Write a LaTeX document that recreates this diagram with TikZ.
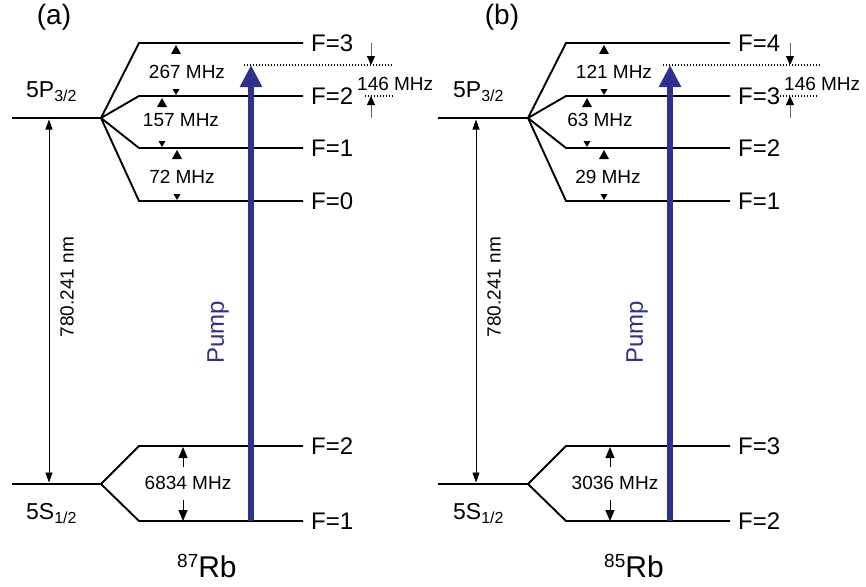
\documentclass[tikz,border=0pt]{standalone}
\usepackage{fontspec}
\setmainfont{Liberation Sans}
\usetikzlibrary{arrows.meta}
\definecolor{pumpblue}{RGB}{46,49,146}
\newcommand\fsz[1]{\fontsize{#1}{#1}\selectfont}
\newcommand\uptri[2]{\fill ({#1-5},{#2+9}) -- ({#1+5},{#2+9}) -- (#1,#2) -- cycle;}
\newcommand\dntri[2]{\fill ({#1-3.5},{#2-6}) -- ({#1+3.5},{#2-6}) -- (#1,#2) -- cycle;}
\tikzset{
 level/.style={line width=1.9pt},
 flab/.style={anchor=west, inner sep=0pt, font=\fsz{24}},
 mhz/.style={inner sep=0pt, font=\fsz{19}},
 stlab/.style={anchor=base west, inner sep=0pt, font=\fsz{23}},
 isolab/.style={anchor=base west, inner sep=0pt, font=\fsz{30}},
 panel/.style={inner sep=0pt, font=\fsz{28}},
 wl/.style={rotate=90, inner sep=0pt, font=\fsz{19}},
 pumplab/.style={rotate=90, inner sep=0pt, font=\fsz{24}, text=pumpblue},
 pumparrow/.style={draw=pumpblue, line width=6.5pt, -{Triangle[width=21pt,length=22pt]}},
 wlarrow/.style={line width=0.8pt, {Triangle[width=7pt,length=10pt]}-{Triangle[width=7pt,length=10pt]}},
 gsarrow/.style={line width=1pt, -{Triangle[width=9pt,length=11pt]}},
 refline/.style={line width=1.2pt, dash pattern=on 1.2pt off 1.8pt},
 smallarrow/.style={draw=black!60, line width=1pt, -{Triangle[width=8pt,length=9pt,black]}},
}
\begin{document}
\begin{tikzpicture}[x=1pt,y=-1pt]
\useasboundingbox (0,0) rectangle (866,586);

% ================= panel (a) =================
\node[panel] (alab) at (54,17) {(a)};
% excited state
\coordinate (aPl) at (12,118);
\coordinate (aPf) at (101,118);
\coordinate (aF3l) at (139,43);  \coordinate (aF3r) at (303,43);
\coordinate (aF2l) at (139,96);  \coordinate (aF2r) at (303,96);
\coordinate (aF1l) at (139,148); \coordinate (aF1r) at (303,148);
\coordinate (aF0l) at (139,201); \coordinate (aF0r) at (303,201);
\draw[level] (aPl) -- (aPf) -- (aF3l) -- (aF3r);
\draw[level] (aPf) -- (aF2l) -- (aF2r);
\draw[level] (aPf) -- (aF1l) -- (aF1r);
\draw[level] (aPf) -- (aF0l) -- (aF0r);
\node[flab] (aL3) at (311,43) {F=3};
\node[flab] (aL2) at (311,96) {F=2};
\node[flab] (aL1) at (311,148) {F=1};
\node[flab] (aL0) at (311,201) {F=0};
\node[stlab] (aP) at (26,97) {5P\raisebox{-4.5pt}{\fsz{16}3/2}};
% ground state
\coordinate (aSl) at (12,484);
\coordinate (aSf) at (101,484);
\coordinate (aG2l) at (139,446); \coordinate (aG2r) at (303,446);
\coordinate (aG1l) at (139,521); \coordinate (aG1r) at (303,521);
\draw[level] (aSl) -- (aSf) -- (aG2l) -- (aG2r);
\draw[level] (aSf) -- (aG1l) -- (aG1r);
\node[flab] (aM2) at (311,446) {F=2};
\node[flab] (aM1) at (311,521) {F=1};
\node[stlab] (aS) at (26,519) {5S\raisebox{-4.5pt}{\fsz{16}1/2}};
% splittings
\node[mhz] (a267) at (187,72) {267 MHz};
\node[mhz] (a157) at (181,120) {157 MHz};
\node[mhz] (a72) at (182,177) {72 MHz};
\uptri{176}{45} \dntri{176}{95}
\uptri{162}{98} \dntri{162}{147}
\uptri{177}{150} \dntri{177}{200}
\node[mhz] (a6834) at (188,483) {6834 MHz};
\coordinate (a6834t) at (183,447); \coordinate (a6834b) at (183,521);
\draw[gsarrow] (183,467) -- (a6834t);
\draw[gsarrow] (183,500) -- (a6834b);
% wavelength
\coordinate (aWt) at (49,119.5); \coordinate (aWb) at (49,482.5);
\draw[wlarrow] (aWb) -- (aWt);
\node[wl] (aWl) at (67,287) {780.241 nm};
% detuning
\coordinate (aD1) at (244,65); \coordinate (aD2) at (393,65);
\coordinate (aD3) at (365,96); \coordinate (aD4) at (393,96);
\draw[refline] (aD1) -- (aD2);
\draw[refline] (aD3) -- (aD4);
\coordinate (aA1) at (371,43); \coordinate (aA2) at (371,65);
\coordinate (aA3) at (371,118); \coordinate (aA4) at (371,96);
\draw[smallarrow] (aA1) -- (aA2);
\draw[smallarrow] (aA3) -- (aA4);
\node[mhz, anchor=west] (a146) at (357,84) {146 MHz};
% pump
\coordinate (aPb) at (251,521); \coordinate (aPt) at (251,65);
\draw[pumparrow] (aPb) -- (aPt);
\node[pumplab] (aPump) at (218,332) {Pump};
\node[isolab] (aRb) at (177,577) {\raisebox{9.5pt}{\fsz{19}87}Rb};

% ================= panel (b) =================
\node[panel] (blab) at (502,17) {(b)};
\coordinate (bPl) at (438,118);
\coordinate (bPf) at (528,118);
\coordinate (bF4l) at (566,43);  \coordinate (bF4r) at (730,43);
\coordinate (bF3l) at (566,96);  \coordinate (bF3r) at (730,96);
\coordinate (bF2l) at (566,148); \coordinate (bF2r) at (730,148);
\coordinate (bF1l) at (566,201); \coordinate (bF1r) at (730,201);
\draw[level] (bPl) -- (bPf) -- (bF4l) -- (bF4r);
\draw[level] (bPf) -- (bF3l) -- (bF3r);
\draw[level] (bPf) -- (bF2l) -- (bF2r);
\draw[level] (bPf) -- (bF1l) -- (bF1r);
\node[flab] (bL4) at (738,43) {F=4};
\node[flab] (bL3) at (738,96) {F=3};
\node[flab] (bL2) at (738,148) {F=2};
\node[flab] (bL1) at (738,201) {F=1};
\node[stlab] (bP) at (453,97) {5P\raisebox{-4.5pt}{\fsz{16}3/2}};
\coordinate (bSl) at (438,484);
\coordinate (bSf) at (528,484);
\coordinate (bG3l) at (566,446); \coordinate (bG3r) at (730,446);
\coordinate (bG2l) at (566,521); \coordinate (bG2r) at (730,521);
\draw[level] (bSl) -- (bSf) -- (bG3l) -- (bG3r);
\draw[level] (bSf) -- (bG2l) -- (bG2r);
\node[flab] (bM3) at (738,446) {F=3};
\node[flab] (bM2) at (738,521) {F=2};
\node[stlab] (bS) at (453,519) {5S\raisebox{-4.5pt}{\fsz{16}1/2}};
\node[mhz] (b121) at (614,72) {121 MHz};
\node[mhz] (b63) at (600,120) {63 MHz};
\node[mhz] (b29) at (608,177) {29 MHz};
\uptri{604}{45} \dntri{604}{95}
\uptri{587}{98} \dntri{587}{147}
\uptri{604}{150} \dntri{604}{200}
\node[mhz] (b3036) at (615,483) {3036 MHz};
\coordinate (b3036t) at (610,447); \coordinate (b3036b) at (610,521);
\draw[gsarrow] (610,467) -- (b3036t);
\draw[gsarrow] (610,500) -- (b3036b);
\coordinate (bWt) at (476,119.5); \coordinate (bWb) at (476,482.5);
\draw[wlarrow] (bWb) -- (bWt);
\node[wl] (bWl) at (494,287) {780.241 nm};
\coordinate (bD1) at (663,65); \coordinate (bD2) at (820,65);
\coordinate (bD3) at (780,96); \coordinate (bD4) at (818,96);
\draw[refline] (bD1) -- (bD2);
\draw[refline] (bD3) -- (bD4);
\coordinate (bA1) at (790,43); \coordinate (bA2) at (790,65);
\coordinate (bA3) at (790,118); \coordinate (bA4) at (790,96);
\draw[smallarrow] (bA1) -- (bA2);
\draw[smallarrow] (bA3) -- (bA4);
\node[mhz, anchor=west] (b146) at (784,84) {146 MHz};
\coordinate (bPb) at (670,521); \coordinate (bPt) at (670,65);
\draw[pumparrow] (bPb) -- (bPt);
\node[pumplab] (bPump) at (637,332) {Pump};
\node[isolab] (bRb) at (604,577) {\raisebox{9.5pt}{\fsz{19}85}Rb};
\end{tikzpicture}
\end{document}
